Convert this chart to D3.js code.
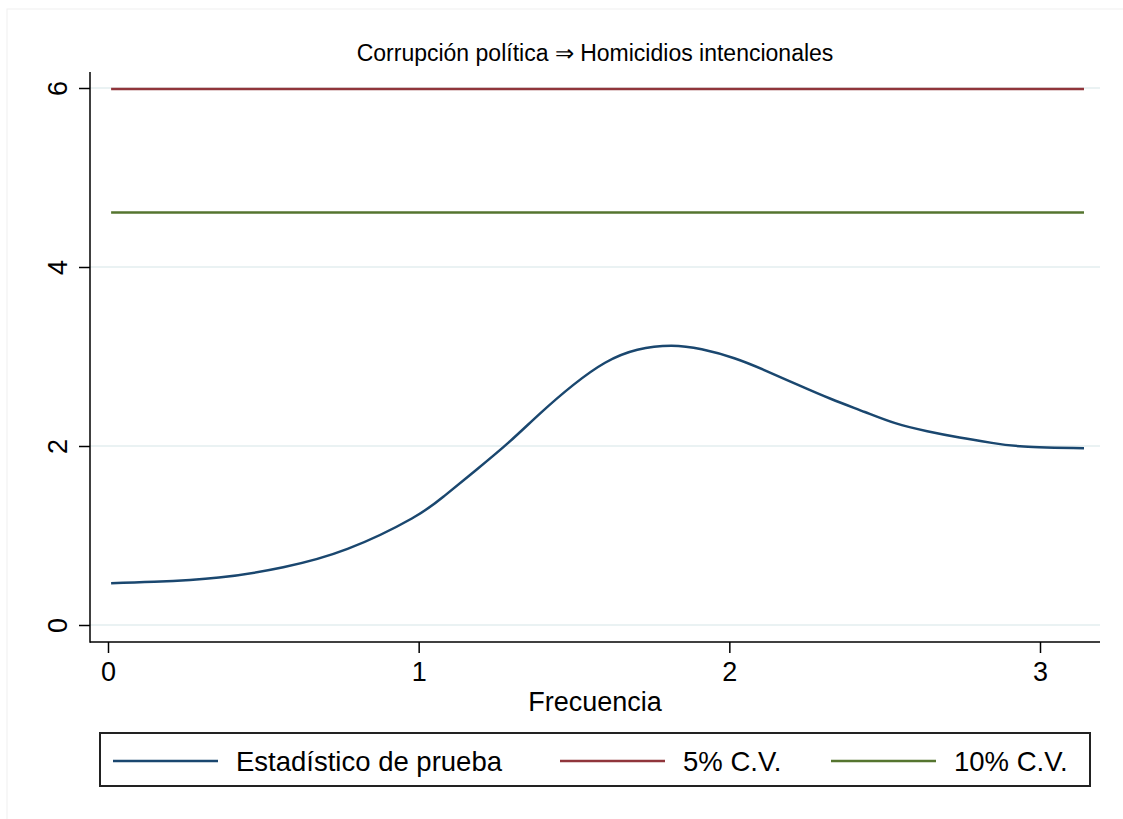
<!DOCTYPE html>
<html>
<head>
<meta charset="utf-8">
<script src="https://cdn.jsdelivr.net/npm/d3@7"></script>
<style>
  body { margin: 0; background: #fff; }
  text { font-family: "Liberation Sans", Arial, sans-serif; fill: #000; }
</style>
</head>
<body>
<svg id="chart" width="1123" height="819"></svg>
<script>
// frequency grid and test statistic
var freq = [0.01, 0.149, 0.357, 0.564, 0.771, 0.978, 1.082, 1.186, 1.29, 1.393, 1.497, 1.60, 1.704,
            1.814, 1.911, 2.016, 2.118, 2.223, 2.328, 2.436, 2.534, 2.637, 2.741, 2.845, 2.948, 3.1416];
var stat = [0.466, 0.482, 0.53, 0.645, 0.85, 1.19, 1.44, 1.735, 2.04, 2.37, 2.68, 2.93, 3.075,
            3.12, 3.08, 2.98, 2.84, 2.68, 2.525, 2.38, 2.255, 2.165, 2.095, 2.035, 1.995, 1.974];
var cv5 = 5.99, cv10 = 4.61;
var xTicks = [0, 1, 2, 3];
var yTicks = [0, 2, 4, 6];
var seriesNames = ["Estadístico de prueba", "5% C.V.", "10% C.V."];
var colors = ["#1a476f", "#90353b", "#55752f"];

var svg = d3.select("#chart");

// faint outer frame
svg.append("rect")
  .attr("x", 7).attr("y", 9).attr("width", 1120).attr("height", 815)
  .attr("fill", "none").attr("stroke", "#f0f0f0");

var plot = {left: 90, right: 1100, top: 72, bottom: 642};

var x = d3.scaleLinear().domain([0, 3]).range([108, 1040]);
var y = d3.scaleLinear().domain([0, 6]).range([625, 88]);

// grid lines
svg.append("g").selectAll("line")
  .data(yTicks)
  .join("line")
    .attr("x1", plot.left).attr("x2", plot.right)
    .attr("y1", d => y(d)).attr("y2", d => y(d))
    .attr("stroke", "#eaf2f3").attr("stroke-width", 2);

// axes
var xAxis = svg.append("g")
  .attr("transform", "translate(0," + plot.bottom + ")")
  .call(d3.axisBottom(x).tickValues(xTicks).tickFormat(d3.format("d"))
    .tickSize(11).tickPadding(9).tickSizeOuter(0));
xAxis.select(".domain").remove();
xAxis.selectAll("line").attr("stroke", "#000").attr("stroke-width", 1.5);
xAxis.selectAll("text").attr("font-size", 27).attr("font-family", "Liberation Sans, Arial, sans-serif");

var yAxis = svg.append("g")
  .attr("transform", "translate(" + plot.left + ",0)")
  .call(d3.axisLeft(y).tickValues(yTicks).tickFormat(d3.format("d")).tickSize(11).tickSizeOuter(0));
yAxis.select(".domain").remove();
yAxis.selectAll("line").attr("stroke", "#000").attr("stroke-width", 1.5);
yAxis.selectAll(".tick text")
  .attr("font-size", 27).attr("font-family", "Liberation Sans, Arial, sans-serif")
  .attr("text-anchor", "middle")
  .attr("x", 0).attr("y", 0).attr("dy", 0)
  .attr("transform", "translate(-23,0) rotate(-90)");

svg.append("line")
  .attr("x1", plot.left).attr("x2", plot.left).attr("y1", plot.top).attr("y2", plot.bottom + 0.75)
  .attr("stroke", "#000").attr("stroke-width", 1.5);
svg.append("line")
  .attr("x1", plot.left).attr("x2", plot.right).attr("y1", plot.bottom).attr("y2", plot.bottom)
  .attr("stroke", "#000").attr("stroke-width", 1.5);

// series
var line = d3.line().x(d => x(d[0])).y(d => y(d[1])).curve(d3.curveNatural);
var f0 = freq[0], f1 = freq[freq.length - 1];

svg.append("path")
  .datum([[f0, cv5], [f1, cv5]])
  .attr("d", line).attr("fill", "none").attr("stroke", colors[1]).attr("stroke-width", 2.5);
svg.append("path")
  .datum([[f0, cv10], [f1, cv10]])
  .attr("d", line).attr("fill", "none").attr("stroke", colors[2]).attr("stroke-width", 2.5);
svg.append("path")
  .datum(freq.map((f, i) => [f, stat[i]]))
  .attr("d", line).attr("fill", "none").attr("stroke", colors[0]).attr("stroke-width", 2.5);

// titles
svg.append("text")
  .attr("x", 595).attr("y", 61).attr("text-anchor", "middle").attr("font-size", 23)
  .text("Corrupción política ⇒ Homicidios intencionales");
svg.append("text")
  .attr("x", 595).attr("y", 711).attr("text-anchor", "middle").attr("font-size", 27)
  .text("Frecuencia");

// legend
var legend = svg.append("g");
legend.append("rect")
  .attr("x", 100).attr("y", 733).attr("width", 990).attr("height", 53)
  .attr("fill", "#fff").attr("stroke", "#222").attr("stroke-width", 2);
var legX = [113, 560, 831];
seriesNames.forEach(function(name, i) {
  legend.append("line")
    .attr("x1", legX[i]).attr("x2", legX[i] + 105).attr("y1", 761).attr("y2", 761)
    .attr("stroke", colors[i]).attr("stroke-width", 2.5);
  legend.append("text")
    .attr("x", legX[i] + 123).attr("y", 771).attr("font-size", 27.5)
    .text(name);
});
</script>
</body>
</html>
